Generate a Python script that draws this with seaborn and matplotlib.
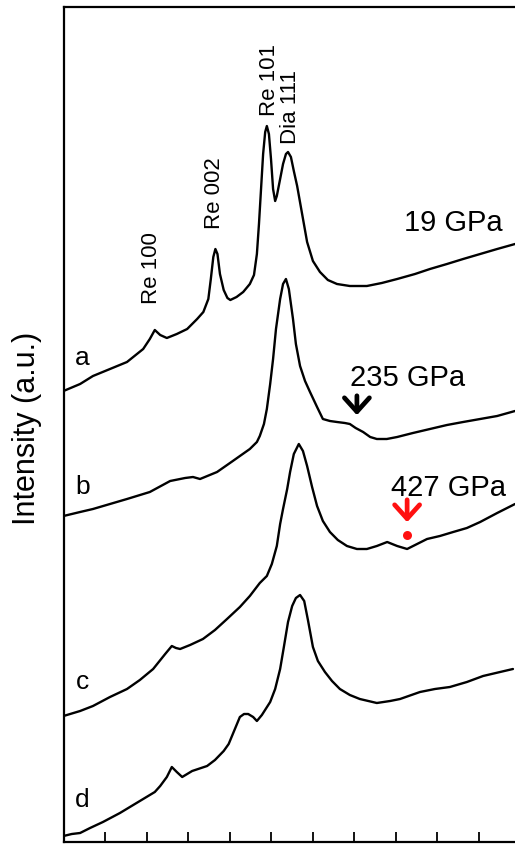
import numpy as np
import pandas as pd
import matplotlib
matplotlib.use("Agg")
import matplotlib.pyplot as plt
import seaborn as sns

# ---------------- data (x in tick units, intensity in a.u., curves stacked) ----
x_a = [0.0, 0.40, 0.71, 1.12, 1.53, 1.92, 2.08, 2.20, 2.33, 2.49, 2.73, 2.98, 3.22, 3.37, 3.49,
       3.55, 3.61, 3.66, 3.71, 3.77, 3.86, 3.95, 4.02, 4.17, 4.33, 4.49, 4.59, 4.66, 4.71, 4.76,
       4.81, 4.86, 4.90, 4.95, 5.00, 5.05, 5.10, 5.14, 5.22, 5.29, 5.36, 5.41, 5.48, 5.55, 5.63,
       5.75, 5.87, 6.01, 6.18, 6.37, 6.59, 6.90, 7.31, 7.67, 8.04, 8.47, 8.83, 9.24, 9.63, 10.04,
       10.45, 10.88]
y_a = [451, 458, 466, 473, 480, 493, 503, 512, 507, 504, 508, 513, 523, 530, 543,
       563, 585, 593, 588, 568, 552, 544, 542, 545, 550, 558, 567, 588, 618, 653,
       688, 710, 716, 708, 683, 653, 641, 646, 663, 678, 688, 690, 685, 671, 656,
       628, 600, 581, 570, 562, 558, 556, 556, 559, 563, 568, 573, 578, 583, 588,
       593, 598]

x_b = [0.0, 0.40, 0.71, 1.12, 1.53, 2.08, 2.57, 2.93, 3.12, 3.29, 3.70, 4.08, 4.49, 4.66, 4.73,
       4.83, 4.90, 4.98, 5.05, 5.12, 5.22, 5.29, 5.36, 5.43, 5.53, 5.60, 5.70, 5.82, 5.94, 6.11,
       6.25, 6.42, 6.59, 6.78, 6.90, 7.04, 7.22, 7.39, 7.55, 7.79, 8.04, 8.42, 8.83, 9.24, 9.63,
       10.04, 10.45, 10.88]
y_b = [326, 330, 333, 338, 343, 350, 361, 364, 365, 363, 370, 381, 393, 400, 406,
       418, 433, 458, 483, 513, 543, 558, 563, 553, 523, 498, 476, 461, 450, 435,
       423, 421, 420, 419, 418, 414, 410, 405, 403, 403, 405, 409, 413, 417, 420,
       423, 426, 431]

x_c = [0.0, 0.40, 0.71, 1.12, 1.53, 1.84, 2.16, 2.45, 2.61, 2.71, 2.81, 3.05, 3.36, 3.65, 3.94,
       4.25, 4.49, 4.73, 4.90, 5.02, 5.14, 5.22, 5.29, 5.39, 5.46, 5.55, 5.67, 5.77, 5.87, 5.99,
       6.11, 6.25, 6.42, 6.61, 6.83, 7.07, 7.31, 7.55, 7.80, 8.04, 8.28, 8.52, 8.76, 9.07, 9.39,
       9.72, 10.04, 10.45, 10.88]
y_c = [126, 131, 136, 145, 153, 162, 173, 188, 196, 194, 193, 197, 203, 212, 223,
       235, 246, 259, 266, 278, 296, 318, 333, 353, 370, 388, 398, 391, 376, 355,
       336, 321, 310, 302, 296, 293, 293, 296, 300, 296, 293, 298, 303, 306, 310,
       314, 320, 329, 338]

x_d = [0.0, 0.20, 0.40, 0.64, 0.95, 1.36, 1.92, 2.20, 2.33, 2.49, 2.61, 2.73, 2.86, 3.10, 3.46,
       3.65, 3.86, 3.98, 4.06, 4.16, 4.25, 4.35, 4.45, 4.57, 4.66, 4.78, 4.98, 5.10, 5.22, 5.31,
       5.41, 5.51, 5.60, 5.70, 5.80, 5.89, 6.01, 6.13, 6.30, 6.47, 6.66, 6.90, 7.14, 7.55, 7.87,
       8.11, 8.59, 8.95, 9.31, 9.72, 10.11, 10.52, 10.83]
y_d = [6, 8, 9, 14, 20, 29, 43, 50, 56, 65, 75, 70, 65, 71, 76,
       82, 91, 98, 106, 116, 125, 128, 128, 125, 121, 127, 140, 153, 173, 195,
       220, 236, 244, 247, 241, 222, 195, 181, 170, 161, 153, 147, 143, 139, 141,
       143, 150, 153, 155, 160, 166, 170, 173]

curve_labels = ["a", "b", "c", "d"]
curve_label_pos = [(0.45, 485), (0.45, 356), (0.45, 161), (0.45, 43)]

peak_labels = ["Re 100", "Re 002", "Re 101", "Dia 111"]
peak_label_pos = [(2.13, 575), (3.65, 650), (4.97, 763), (5.46, 736)]

pressure_labels = ["19 GPa", "235 GPa", "427 GPa"]
pressure_label_pos = [(9.39, 620), (8.28, 465), (9.27, 355)]

x_ticks = [1, 2, 3, 4, 5, 6, 7, 8, 9, 10]

# ---------------- figure --------------------------------------------------------
sns.set_theme(style="ticks")
plt.rcParams["font.family"] = ["Liberation Sans", "DejaVu Sans"]

W, H = 515, 845
fig = plt.figure(figsize=(W / 100, H / 100), dpi=100)
left_px, top_px, bottom_px = 63.5, 8, 843
ax = fig.add_axes([left_px / W, (H - bottom_px) / H,
                   (W - left_px) / W, (bottom_px - top_px) / H])

for xs, ys in [(x_a, y_a), (x_b, y_b), (x_c, y_c), (x_d, y_d)]:
    df = pd.DataFrame({"x": xs, "y": ys})
    sns.lineplot(data=df, x="x", y="y", color="black", lw=1.7, ax=ax,
                 sort=False, estimator=None)

ax.set_xlim(0, (W - left_px) / 41.5)
ax.set_ylim(0, bottom_px - top_px)

for s in ["left", "top", "bottom"]:
    ax.spines[s].set_linewidth(1.6)
    ax.spines[s].set_color("black")
ax.spines["right"].set_visible(False)

ax.set_xticks(x_ticks)
ax.set_xticklabels([])
ax.set_yticks([])
ax.tick_params(axis="x", direction="in", length=7.5, width=1.3, color="black")
ax.set_xlabel("")
ax.set_ylabel("Intensity (a.u.)", fontsize=22, color="black")
ax.yaxis.set_label_coords(-0.047, 0.497)

for t, (x, y) in zip(curve_labels, curve_label_pos):
    ax.text(x, y, t, fontsize=19, ha="center", va="center", color="black")

for t, (x, y) in zip(peak_labels, peak_label_pos):
    ax.text(x, y, t, fontsize=16, rotation=90, ha="center", va="center", color="black")

for t, (x, y) in zip(pressure_labels, pressure_label_pos):
    ax.text(x, y, t, fontsize=21, ha="center", va="center", color="black")

# arrows marking weak features
ax.annotate("", xy=(7.07, 424), xytext=(7.07, 449),
            arrowprops=dict(arrowstyle="->,head_length=0.5,head_width=0.45",
                            lw=3.4, color="black", mutation_scale=20))
ax.annotate("", xy=(8.28, 317), xytext=(8.28, 345),
            arrowprops=dict(arrowstyle="->,head_length=0.5,head_width=0.45",
                            lw=3.4, color="#ff1010", mutation_scale=20))
ax.scatter([8.28], [307], s=42, color="#ff1010", zorder=5, linewidths=0)

fig.savefig("out.png", dpi=100)
